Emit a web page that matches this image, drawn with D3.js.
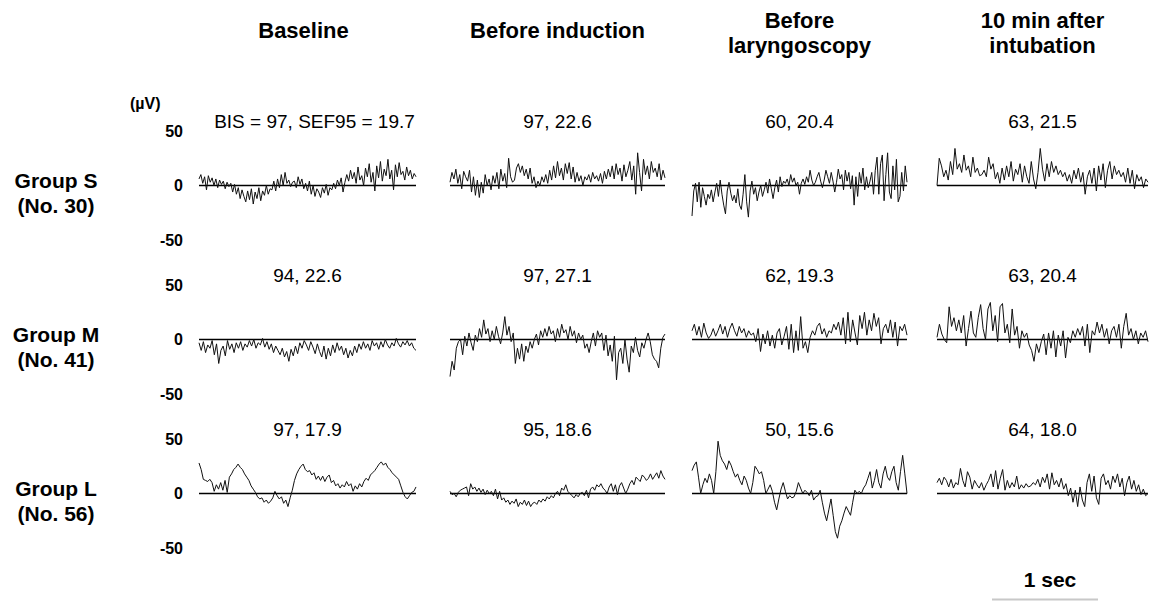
<!DOCTYPE html>
<html>
<head>
<meta charset="utf-8">
<script src="https://cdn.jsdelivr.net/npm/d3@7"></script>
<style>
  body { margin: 0; background: #fff; }
  svg text { font-family: "Liberation Sans", Arial, sans-serif; fill: #000; }
</style>
</head>
<body>
<div id="graph"></div>
<script>
const width = 1150
const height = 601

// stages (columns) and groups (rows)
const stages = [['Baseline'], ['Before induction'], ['Before', 'laryngoscopy'], ['10 min after', 'intubation']]
const groups = [['Group S', '(No. 30)'], ['Group M', '(No. 41)'], ['Group L', '(No. 56)']]
const yTicks = [50, 0, -50]

// BIS, SEF95 per group x stage
const labels = [
  ['BIS = 97, SEF95 = 19.7', '97, 22.6', '60, 20.4', '63, 21.5'],
  ['94, 22.6', '97, 27.1', '62, 19.3', '63, 20.4'],
  ['97, 17.9', '95, 18.6', '50, 15.6', '64, 18.0']
]

// EEG traces in µV
const s1 = [6,10,2,8,-4,9,3,7,0,6,-2,5,1,4,-3,3,-1,2,-6,1,-8,-2,-12,-4,-10,-15,-5,-13,-3,-17,-6,-12,-2,-14,-5,-9,0,-8,-3,-4,4,-5,6,-2,10,0,12,2,5,-1,3,4,-2,8,1,6,-3,2,-5,4,-8,0,-10,-3,-6,-11,-2,-7,1,-9,-2,-4,2,-3,5,0,7,-6,3,10,4,14,6,12,2,17,5,9,0,16,8,20,3,12,-5,18,7,22,4,15,9,24,6,14,-4,19,8,21,10,13,5,17,9,14,6,11,8]
const s2 = [3,12,6,15,2,10,-3,13,8,4,14,-6,8,-9,5,-11,3,-7,10,0,6,-4,9,2,12,-3,15,4,11,-2,25,8,3,5,16,20,12,18,9,15,6,16,2,8,-2,4,0,8,3,10,2,14,5,18,7,22,9,16,5,20,11,21,6,17,3,12,4,9,0,8,5,10,3,12,6,9,4,11,2,13,6,15,8,18,6,20,10,16,4,19,8,14,22,5,18,-8,30,12,-5,24,10,18,6,22,12,16,8,20,5,14,7]
const s3 = [-28,-5,2,-15,3,-20,-2,-10,-18,-8,-12,-4,-15,-6,2,-10,5,-8,-18,-26,-5,3,-7,-14,-9,-16,-3,-18,-22,-8,10,-15,-29,-5,4,-8,-2,-14,-6,0,-10,-4,3,-7,6,-3,-12,-2,5,-6,8,-1,4,2,6,0,10,3,7,0,3,-8,2,6,1,8,3,14,5,0,3,8,12,4,-2,5,14,8,2,12,4,-6,3,15,6,10,-4,14,4,12,-3,9,-18,8,-10,12,2,16,-4,8,-2,4,12,-8,14,26,-8,20,28,-14,10,30,-6,-12,18,-4,24,-15,-10,12,-5,18,3]
const s4 = [0,25,18,8,14,5,22,10,34,15,20,12,28,14,18,8,26,12,16,9,10,14,8,26,15,20,6,12,2,16,5,18,8,22,4,15,10,20,3,18,8,2,22,6,-3,12,34,15,4,20,8,22,12,18,10,14,8,12,4,10,2,14,6,16,3,12,-8,8,14,2,16,-5,18,5,20,-2,14,22,6,18,10,14,8,12,3,16,2,14,-3,10,4,8,-2,6,3]
const m1 = [-3,-10,-2,-12,-5,-8,-1,-14,-4,-22,-10,-6,-15,-1,-9,-4,-12,-3,-8,-2,-10,-4,-7,-1,-6,0,-8,-3,-5,1,-7,-2,-9,-4,-12,-6,-10,-14,-8,-16,-11,-20,-9,-15,-6,-13,-3,-8,-1,-5,-10,-2,-7,-13,-4,-11,-16,-6,-18,-8,-15,-5,-12,-3,-10,-6,-14,-8,-17,-10,-15,-6,-12,-4,-9,-2,-8,-4,-10,-1,-6,-3,-9,-2,-7,0,-5,-8,-3,-6,1,-4,-7,-2,-5,-1,-6,-3,-8,-10]
const m2 = [-34,-20,-28,-8,-2,0,-14,3,-6,6,-3,-10,4,-2,10,2,18,5,10,-2,8,0,12,3,-4,6,21,4,12,-2,6,-22,-8,-18,-4,-20,-6,-12,-2,-8,0,5,-5,8,2,10,3,12,5,8,-2,10,2,14,6,9,0,12,3,8,-3,6,0,4,-8,-4,-12,-2,6,-6,8,2,6,-10,4,-15,-5,-20,3,-37,-12,-8,-22,0,-18,-30,-6,-12,2,-10,-16,-3,-8,0,6,-2,-14,-18,-20,-26,-8,2,5]
const m3 = [8,14,4,12,2,15,6,1,4,10,3,8,14,5,12,2,10,15,8,3,12,6,10,2,8,4,6,-2,10,-11,5,-4,8,-6,4,-8,6,10,-5,3,12,-9,14,-12,8,-10,21,-8,-2,-12,2,8,4,12,15,5,10,2,8,6,14,9,16,4,20,-4,25,-2,18,6,-5,22,10,25,4,18,8,24,12,20,-4,10,14,6,18,2,16,-6,12,8,14,4]
const m4 = [2,14,5,0,-3,30,12,20,8,18,6,22,-6,10,26,6,2,20,32,10,0,28,34,8,22,-2,30,33,6,14,-3,28,4,12,-8,8,2,6,-5,-10,-20,-4,-12,-2,5,-14,6,-8,8,-16,4,-6,8,-17,2,-3,8,2,10,4,12,-6,14,-12,8,4,16,6,14,2,10,-4,8,12,2,14,-8,12,24,4,10,0,8,-4,6,2,8,-2]
const l1 = [28,22,13,12,11,13,10,2,8,4,10,3,12,1,15,18,22,24,27,24,22,18,15,12,7,4,1,-3,-5,-4,-8,-6,-9,-7,-4,2,-2,-5,-3,-9,-6,-12,-4,3,12,18,22,25,27,22,20,21,17,19,13,16,12,16,11,15,17,10,12,7,9,5,8,6,11,7,9,2,7,4,9,6,11,14,12,17,19,21,24,27,29,26,28,24,22,19,17,15,13,7,1,-3,-5,-2,1,2,6]
const l2 = [2,-1,0,-3,1,3,4,5,6,-2,9,4,6,2,5,1,4,-1,3,0,2,-2,4,-5,2,-6,-4,-8,-6,-10,-7,-9,-5,-12,-8,-10,-6,-11,-7,-12,-9,-8,-10,-6,-8,-5,-7,-3,-5,-2,-4,0,2,-2,5,3,8,2,0,-2,-4,-1,-3,0,1,-2,3,-4,4,6,3,8,6,9,5,3,0,6,9,2,8,-1,7,10,5,0,4,9,12,8,15,13,11,17,15,12,14,18,13,16,19,14,21,16,13]
const l3 = [21,26,29,15,0,8,14,10,18,12,0,20,48,35,30,27,22,30,26,20,15,18,12,8,16,12,5,0,10,25,22,18,20,12,0,4,8,2,-8,-15,-5,4,10,2,-5,-2,-4,-3,2,10,5,0,3,1,-2,3,-6,-3,-2,3,-8,-18,-25,-15,-5,-20,-35,-41,-30,-25,-18,-12,-16,-20,-8,3,0,2,0,5,8,14,20,5,12,22,10,5,18,25,15,12,20,25,10,3,20,35,18,0]
const l4 = [10,14,8,15,12,6,13,5,10,8,23,12,6,20,15,4,12,8,5,10,3,8,12,18,6,21,4,14,22,3,12,5,10,6,16,4,8,5,9,6,7,10,8,13,6,15,10,18,4,19,8,12,6,14,4,9,-2,5,-8,3,-12,6,-6,-12,10,18,2,16,-4,-10,14,18,8,12,4,16,10,18,6,14,-2,10,16,4,12,2,8,-1,4,-2,0]

const traces = [[s1, s2, s3, s4], [m1, m2, m3, m4], [l1, l2, l3, l4]]

// layout
const colX = [[199, 416], [450, 665], [692, 907], [937, 1148]]
const rowZero = [185.5, 339.5, 493.5]
const half = 54.5

const svg = d3.select('#graph')
  .append('svg')
  .attr('width', width)
  .attr('height', height)

// column titles
stages.forEach((lines, c) => {
  const cx = (colX[c][0] + colX[c][1]) / 2 + (c === 0 ? -4 : 0)
  const t = svg.append('text')
    .attr('x', cx)
    .attr('text-anchor', 'middle')
    .style('font-size', '22px')
    .style('font-weight', 'bold')
  lines.forEach((l, i) => {
    const y = lines.length === 1 ? 38 : 28 + i * 25
    t.append('tspan').attr('x', cx).attr('y', y).text(l)
  })
})

svg.append('text')
  .attr('x', 130).attr('y', 109)
  .style('font-size', '16px').style('font-weight', 'bold')
  .text('(µV)')

groups.forEach((g, r) => {
  const y = d3.scaleLinear().domain([-50, 50]).range([rowZero[r] + half, rowZero[r] - half])

  // group label
  g.forEach((l, i) => {
    svg.append('text')
      .attr('x', 56).attr('y', rowZero[r] + 2 + i * 25)
      .attr('text-anchor', 'middle')
      .style('font-size', '21px').style('font-weight', 'bold')
      .text(l)
  })

  const axis = svg.append('g')
    .attr('transform', 'translate(183,0)')
    .call(d3.axisLeft(y).tickValues(yTicks).tickSize(0).tickPadding(0).tickFormat(d => String(d)))
  axis.select('.domain').remove()
  axis.selectAll('text')
    .style('font-size', '16px').style('font-weight', 'bold')
    .style('font-family', '"Liberation Sans", Arial, sans-serif')

  traces[r].forEach((vals, c) => {
    const x = d3.scaleLinear().domain([0, vals.length - 1]).range(colX[c])

    svg.append('text')
      .attr('x', (colX[c][0] + colX[c][1]) / 2 + (r === 0 && c === 0 ? 7 : 0))
      .attr('y', rowZero[r] - 58)
      .attr('text-anchor', 'middle')
      .style('font-size', '19px')
      .text(labels[r][c])

    svg.append('line')
      .attr('x1', colX[c][0]).attr('x2', colX[c][1])
      .attr('y1', y(0)).attr('y2', y(0))
      .attr('stroke', '#000').attr('stroke-width', 1.5)

    const line = d3.line()
      .x((d, i) => x(i))
      .y(d => y(d))

    svg.append('path')
      .datum(vals)
      .attr('d', line)
      .attr('fill', 'none')
      .attr('stroke', '#111')
      .attr('stroke-width', 1)
  })
})

// time scale bar
svg.append('text')
  .attr('x', 1050).attr('y', 587)
  .attr('text-anchor', 'middle')
  .style('font-size', '21px').style('font-weight', 'bold')
  .text('1 sec')

svg.append('line')
  .attr('x1', 992).attr('x2', 1098)
  .attr('y1', 599.5).attr('y2', 599.5)
  .attr('stroke', '#c8c8c8').attr('stroke-width', 2)
</script>
</body>
</html>
